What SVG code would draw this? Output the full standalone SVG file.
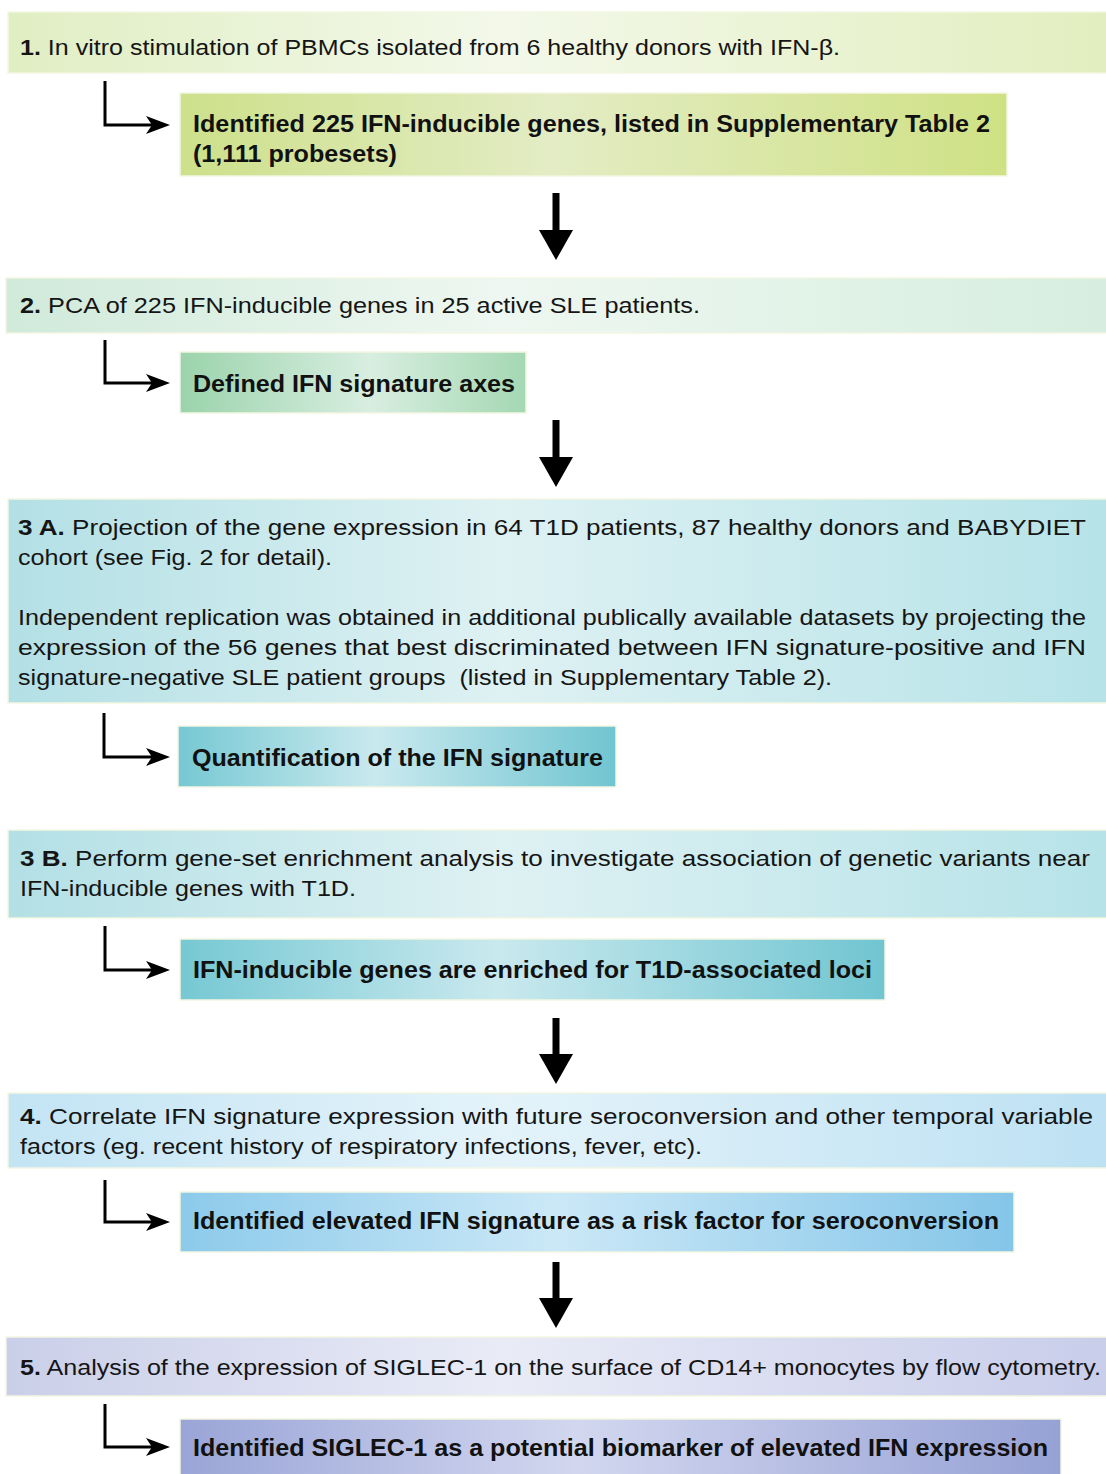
<svg xmlns="http://www.w3.org/2000/svg" width="1106" height="1474" viewBox="0 0 1106 1474">
<style>
.t{font-family:"Liberation Sans",Arial,sans-serif;font-size:22px;fill:#151515}
.b{font-family:"Liberation Sans",Arial,sans-serif;font-size:23px;font-weight:bold;fill:#111}
.bx{stroke:#f3f6e2;stroke-width:1.5}
.el{fill:none;stroke:#000;stroke-width:3;marker-end:url(#ah)}
.dn{fill:none;stroke:#000;stroke-width:7;marker-end:url(#dh)}
</style>
<defs>
<linearGradient id="g1"><stop offset="0" stop-color="#e0eec3"/><stop offset="0.45" stop-color="#f3f8e9"/><stop offset="1" stop-color="#e2eebf"/></linearGradient>
<linearGradient id="r1"><stop offset="0" stop-color="#cde08a"/><stop offset="0.45" stop-color="#e3ecc4"/><stop offset="1" stop-color="#cfe184"/></linearGradient>
<linearGradient id="g2"><stop offset="0" stop-color="#d0eada"/><stop offset="0.45" stop-color="#eef7f1"/><stop offset="1" stop-color="#d6eedf"/></linearGradient>
<linearGradient id="r2"><stop offset="0" stop-color="#9bd3ac"/><stop offset="0.55" stop-color="#d8eee0"/><stop offset="1" stop-color="#a4d8b3"/></linearGradient>
<linearGradient id="g3"><stop offset="0" stop-color="#b3e0e5"/><stop offset="0.45" stop-color="#def1f3"/><stop offset="1" stop-color="#b6e3e8"/></linearGradient>
<linearGradient id="r3"><stop offset="0" stop-color="#76c8d3"/><stop offset="0.45" stop-color="#c9e9ee"/><stop offset="1" stop-color="#70c5d1"/></linearGradient>
<linearGradient id="g4"><stop offset="0" stop-color="#c3e4f4"/><stop offset="0.45" stop-color="#e4f3fa"/><stop offset="1" stop-color="#bde1f3"/></linearGradient>
<linearGradient id="r4"><stop offset="0" stop-color="#8ccaea"/><stop offset="0.45" stop-color="#cbe8f7"/><stop offset="1" stop-color="#84c5e8"/></linearGradient>
<linearGradient id="g5"><stop offset="0" stop-color="#cacfe9"/><stop offset="0.45" stop-color="#e9ebf6"/><stop offset="1" stop-color="#c8cdea"/></linearGradient>
<linearGradient id="r5"><stop offset="0" stop-color="#9aa5d7"/><stop offset="0.45" stop-color="#d2d7ef"/><stop offset="1" stop-color="#96a1d5"/></linearGradient>
<marker id="ah" markerUnits="userSpaceOnUse" markerWidth="26" markerHeight="20" viewBox="-25 -10 26 20" refX="-12" refY="0" orient="auto"><path d="M0,0 L-24,-9 L-18,0 L-24,9 Z" fill="#000"/></marker>
<marker id="dh" markerUnits="userSpaceOnUse" markerWidth="32" markerHeight="36" viewBox="-31 -18 32 36" refX="-28" refY="0" orient="auto"><path d="M0,0 L-30,-17 L-30,17 Z" fill="#000"/></marker>
</defs>
<rect width="1106" height="1474" fill="#fff"/>

<g id="connectors">
<path class="el" d="M105,81 V125 H158"/>
<path class="el" d="M105,340 V383 H158"/>
<path class="el" d="M104,713 V757 H158"/>
<path class="el" d="M105,926 V970 H158"/>
<path class="el" d="M105,1180 V1222 H158"/>
<path class="el" d="M105,1404 V1447 H158"/>
<path class="dn" d="M556,193 V232"/>
<path class="dn" d="M556,420 V459"/>
<path class="dn" d="M556,1018 V1056"/>
<path class="dn" d="M556,1262 V1300"/>
</g>

<g id="step1">
<rect class="bx" x="8" y="12" width="1100" height="61" fill="url(#g1)"/>
<text class="t" x="20" y="55" textLength="820" lengthAdjust="spacingAndGlyphs"><tspan font-weight="bold">1.</tspan> In vitro stimulation of PBMCs isolated from 6 healthy donors with IFN-β.</text>
</g>
<g id="result1">
<rect class="bx" x="180" y="93" width="827" height="83" fill="url(#r1)"/>
<text class="b" x="193" y="132" textLength="797" lengthAdjust="spacingAndGlyphs">Identified 225 IFN-inducible genes, listed in Supplementary Table 2</text>
<text class="b" x="193" y="162" textLength="204" lengthAdjust="spacingAndGlyphs">(1,111 probesets)</text>
</g>

<g id="step2">
<rect class="bx" x="6" y="278" width="1102" height="55" fill="url(#g2)"/>
<text class="t" x="20" y="313" textLength="680" lengthAdjust="spacingAndGlyphs"><tspan font-weight="bold">2.</tspan> PCA of 225 IFN-inducible genes in 25 active SLE patients.</text>
</g>
<g id="result2">
<rect class="bx" x="180" y="352" width="346" height="61" fill="url(#r2)"/>
<text class="b" x="193" y="392" textLength="322" lengthAdjust="spacingAndGlyphs">Defined IFN signature axes</text>
</g>

<g id="step3A">
<rect class="bx" x="8" y="499" width="1100" height="204" fill="url(#g3)"/>
<text class="t" x="18" y="535" textLength="1068" lengthAdjust="spacingAndGlyphs"><tspan font-weight="bold">3 A.</tspan> Projection of the gene expression in 64 T1D patients, 87 healthy donors and BABYDIET</text>
<text class="t" x="18" y="565" textLength="314" lengthAdjust="spacingAndGlyphs">cohort (see Fig. 2 for detail).</text>
<text class="t" x="18" y="625" textLength="1068" lengthAdjust="spacingAndGlyphs">Independent replication was obtained in additional publically available datasets by projecting the</text>
<text class="t" x="18" y="655" textLength="1068" lengthAdjust="spacingAndGlyphs">expression of the 56 genes that best discriminated between IFN signature-positive and IFN</text>
<text class="t" x="18" y="685" textLength="814" lengthAdjust="spacingAndGlyphs">signature-negative SLE patient groups&#160; (listed in Supplementary Table 2).</text>
</g>
<g id="result3A">
<rect class="bx" x="178" y="726" width="438" height="61" fill="url(#r3)"/>
<text class="b" x="192" y="766" textLength="411" lengthAdjust="spacingAndGlyphs">Quantification of the IFN signature</text>
</g>

<g id="step3B">
<rect class="bx" x="8" y="830" width="1100" height="88" fill="url(#g3)"/>
<text class="t" x="20" y="866" textLength="1070" lengthAdjust="spacingAndGlyphs"><tspan font-weight="bold">3 B.</tspan> Perform gene-set enrichment analysis to investigate association of genetic variants near</text>
<text class="t" x="20" y="896" textLength="336" lengthAdjust="spacingAndGlyphs">IFN-inducible genes with T1D.</text>
</g>
<g id="result3B">
<rect class="bx" x="180" y="939" width="705" height="61" fill="url(#r3)"/>
<text class="b" x="193" y="978" textLength="679" lengthAdjust="spacingAndGlyphs">IFN-inducible genes are enriched for T1D-associated loci</text>
</g>

<g id="step4">
<rect class="bx" x="8" y="1093" width="1100" height="75" fill="url(#g4)"/>
<text class="t" x="20" y="1124" textLength="1073" lengthAdjust="spacingAndGlyphs"><tspan font-weight="bold">4.</tspan> Correlate IFN signature expression with future seroconversion and other temporal variable</text>
<text class="t" x="20" y="1154" textLength="682" lengthAdjust="spacingAndGlyphs">factors (eg. recent history of respiratory infections, fever, etc).</text>
</g>
<g id="result4">
<rect class="bx" x="180" y="1192" width="834" height="60" fill="url(#r4)"/>
<text class="b" x="193" y="1229" textLength="806" lengthAdjust="spacingAndGlyphs">Identified elevated IFN signature as a risk factor for seroconversion</text>
</g>

<g id="step5">
<rect class="bx" x="6" y="1337" width="1102" height="59" fill="url(#g5)"/>
<text class="t" x="20" y="1375" textLength="1081" lengthAdjust="spacingAndGlyphs"><tspan font-weight="bold">5.</tspan> Analysis of the expression of SIGLEC-1 on the surface of CD14+ monocytes by flow cytometry.</text>
</g>
<g id="result5">
<rect class="bx" x="180" y="1419" width="881" height="60" fill="url(#r5)"/>
<text class="b" x="193" y="1456" textLength="855" lengthAdjust="spacingAndGlyphs">Identified SIGLEC-1 as a potential biomarker of elevated IFN expression</text>
</g>
</svg>
